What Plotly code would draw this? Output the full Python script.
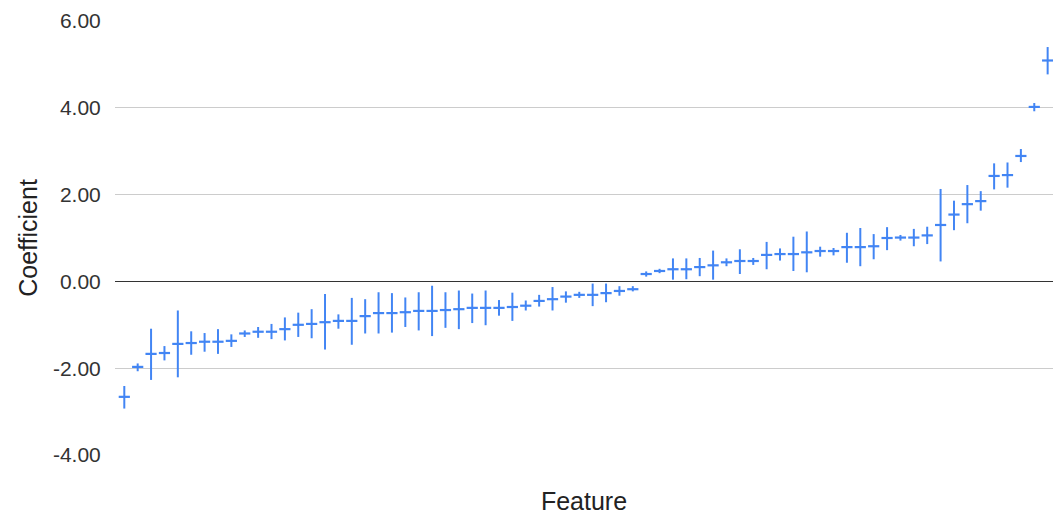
import plotly.graph_objects as go

# Regression coefficients per feature, sorted, with interval bounds
feature_idx = list(range(1, 71))
coef = [-2.66, -1.97, -1.67, -1.65, -1.44, -1.42, -1.39, -1.39, -1.37, -1.20, -1.16, -1.16,
        -1.10, -1.00, -0.98, -0.94, -0.91, -0.91, -0.80, -0.73, -0.73, -0.71, -0.68, -0.68,
        -0.66, -0.64, -0.61, -0.61, -0.61, -0.59, -0.56, -0.45, -0.41, -0.35, -0.31, -0.31,
        -0.27, -0.22, -0.18, 0.17, 0.24, 0.28, 0.28, 0.33, 0.37, 0.44, 0.47, 0.47, 0.61,
        0.63, 0.63, 0.67, 0.70, 0.70, 0.79, 0.79, 0.81, 1.00, 1.01, 1.01, 1.06, 1.30, 1.54,
        1.78, 1.85, 2.43, 2.45, 2.89, 4.02, 5.09]
lower = [-2.93, -2.07, -2.27, -1.82, -2.21, -1.69, -1.62, -1.67, -1.51, -1.28, -1.30, -1.33,
         -1.36, -1.28, -1.31, -1.57, -1.09, -1.46, -1.20, -1.20, -1.18, -1.05, -1.13, -1.26,
         -1.07, -1.10, -0.96, -1.01, -0.79, -0.91, -0.67, -0.58, -0.67, -0.49, -0.38, -0.57,
         -0.48, -0.33, -0.23, 0.11, 0.19, 0.04, 0.05, 0.12, 0.04, 0.35, 0.17, 0.38, 0.28,
         0.48, 0.24, 0.21, 0.57, 0.60, 0.43, 0.35, 0.51, 0.72, 0.94, 0.81, 0.86, 0.46, 1.18,
         1.34, 1.63, 2.12, 2.16, 2.75, 3.92, 4.77]
upper = [-2.41, -1.89, -1.09, -1.49, -0.67, -1.15, -1.19, -1.10, -1.22, -1.13, -1.05, -0.98,
         -0.83, -0.72, -0.64, -0.29, -0.76, -0.38, -0.41, -0.25, -0.27, -0.37, -0.25, -0.10,
         -0.25, -0.21, -0.28, -0.21, -0.43, -0.26, -0.44, -0.31, -0.13, -0.23, -0.24, -0.05,
         -0.05, -0.11, -0.11, 0.23, 0.29, 0.53, 0.53, 0.54, 0.71, 0.53, 0.74, 0.54, 0.91,
         0.76, 1.03, 1.15, 0.80, 0.77, 1.12, 1.23, 1.09, 1.25, 1.07, 1.21, 1.26, 2.13, 1.86,
         2.22, 2.08, 2.72, 2.74, 3.05, 4.11, 5.40]
y_ticks = [-4, -2, 0, 2, 4, 6]
y_tick_text = [f"{v:.2f}" for v in y_ticks]

BLUE = "#4285F4"
FONT = "Liberation Sans, Arial, sans-serif"

err_plus = [u - c for u, c in zip(upper, coef)]
err_minus = [c - l for c, l in zip(coef, lower)]

fig = go.Figure(
    go.Scatter(
        x=feature_idx,
        y=coef,
        mode="markers",
        # line-ew symbol length is 1.4 x size, so size 8 gives ~11 px ticks
        marker=dict(symbol="line-ew", size=8, color=BLUE,
                    line=dict(color=BLUE, width=2.2)),
        error_y=dict(type="data", symmetric=False, array=err_plus,
                     arrayminus=err_minus, width=0, thickness=2, color=BLUE),
        hoverinfo="skip",
    )
)

fig.update_layout(
    width=1053,
    height=516,
    margin=dict(l=115, r=0, t=21, b=61),
    paper_bgcolor="white",
    plot_bgcolor="white",
    showlegend=False,
    font=dict(family=FONT, color="#222222"),
    xaxis=dict(
        range=[0.305, 70.4],
        showgrid=False,
        zeroline=False,
        showline=False,
        showticklabels=False,
        ticks="",
        title=dict(text="Feature", font=dict(size=25, color="#222222"), standoff=37),
    ),
    yaxis=dict(
        range=[-4, 6],
        tickvals=y_ticks,
        ticktext=y_tick_text,
        tickfont=dict(size=21, color="#333333"),
        showgrid=True,
        gridcolor="#cccccc",
        gridwidth=1,
        zeroline=True,
        zerolinecolor="#333333",
        zerolinewidth=1,
        showline=False,
        ticks="outside",
        ticklen=9,
        tickcolor="rgba(0,0,0,0)",
        title=dict(text="Coefficient", font=dict(size=25, color="#222222"), standoff=8),
    ),
)

fig.write_html("out.html")
